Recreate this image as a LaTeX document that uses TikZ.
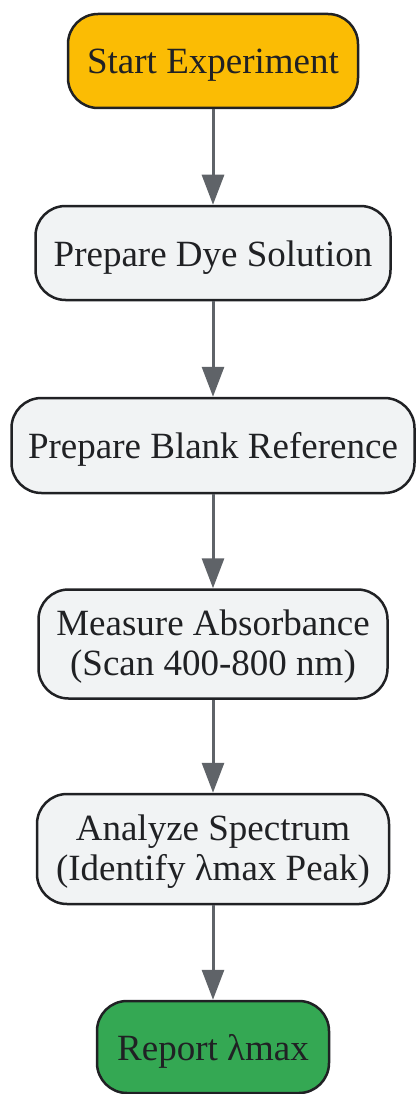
\documentclass[tikz,border=0pt]{standalone}
\usepackage{fontspec}
\setmainfont{Liberation Serif}
\usetikzlibrary{arrows.meta}
\definecolor{txt}{HTML}{202124}
\definecolor{startfill}{HTML}{FBBC04}
\definecolor{grayfill}{HTML}{F1F3F4}
\definecolor{endfill}{HTML}{34A853}
\definecolor{arrowc}{HTML}{5F6368}
\tikzset{
  box/.style={draw=txt, line width=2.5pt, rounded corners=30pt, fill=grayfill,
    text=txt, align=center, inner sep=0pt, text depth=0pt, text height=26pt,
    font=\fontsize{37}{40}\selectfont},
  twoline/.style={text height=62pt},
  flow/.style={draw=arrowc, line width=3pt, -{Triangle[length=30pt,width=22pt]}}
}
\begin{document}
\begin{tikzpicture}[x=1pt,y=-1pt]
\useasboundingbox (0,0) rectangle (415,1094);
\node[box, fill=startfill, minimum width=290pt, minimum height=94pt] (start) at (213,61) {Start Experiment};
\node[box, minimum width=355pt, minimum height=94pt] (dye) at (213,253) {Prepare Dye Solution};
\node[box, minimum width=403pt, minimum height=95pt] (blank) at (213,445.5) {Prepare Blank Reference};
\node[box, twoline, minimum width=349pt, minimum height=109pt] (meas) at (213,644) {Measure Absorbance\\(Scan 400-800 nm)};
\node[box, twoline, minimum width=352pt, minimum height=110pt] (anal) at (213,849) {Analyze Spectrum\\(Identify λmax Peak)};
\node[box, fill=endfill, minimum width=232pt, minimum height=92pt] (rep) at (213,1047) {Report λmax};
\draw[flow] (start.south) -- (dye.north);
\draw[flow] (dye.south) -- (blank.north);
\draw[flow] (blank.south) -- (meas.north);
\draw[flow] (meas.south) -- (anal.north);
\draw[flow] (anal.south) -- (rep.north);
\end{tikzpicture}
\end{document}
